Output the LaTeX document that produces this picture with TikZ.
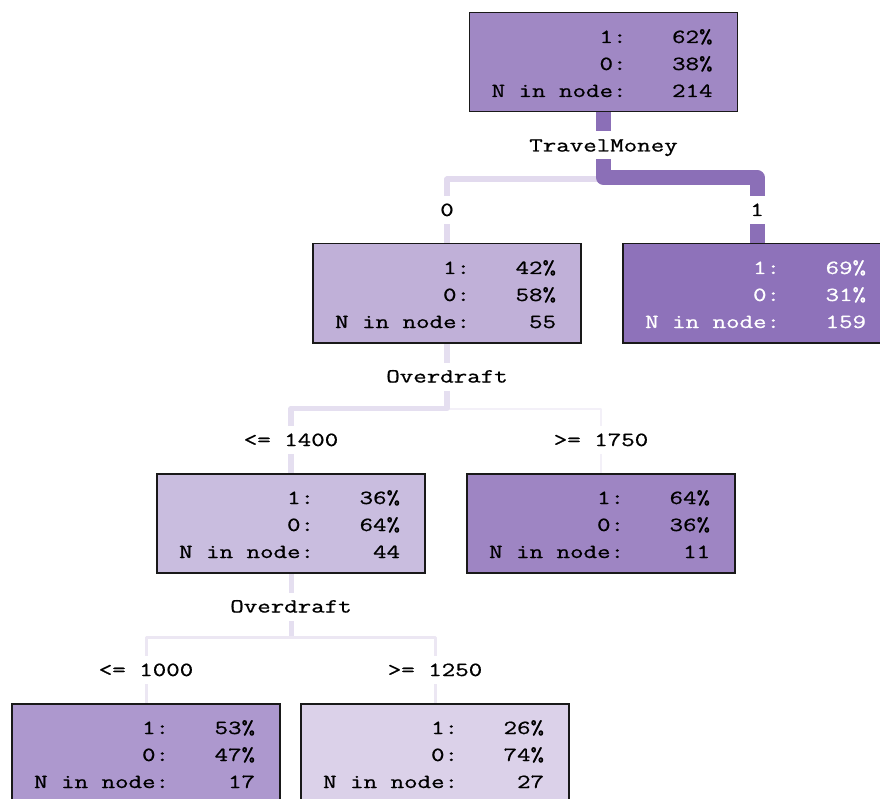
\documentclass[tikz,border=0pt]{standalone}
\usepackage{fontspec}
\newfontfamily\tfont[FakeStretch=1.31,FakeBold=0.8]{Latin Modern Mono}
\usetikzlibrary{calc,backgrounds}
\definecolor{cRoot}{HTML}{A088C4}
\definecolor{cN159}{HTML}{8E72BA}
\definecolor{cN55}{HTML}{C0B0D8}
\definecolor{cN44}{HTML}{C9BDDF}
\definecolor{cN11}{HTML}{9E85C3}
\definecolor{cN17}{HTML}{AD98CE}
\definecolor{cN27}{HTML}{DBD1E9}
\definecolor{cThick}{HTML}{8B6FB7}
\definecolor{cLightA}{HTML}{E2DAEE}
\definecolor{cLightB}{HTML}{E5DFF0}
\definecolor{cLightC}{HTML}{ECE7F3}
\definecolor{cFaint}{HTML}{F3F0F8}
\tikzset{
  tbox/.style={draw=black!90, line width=1.5pt, minimum width=268pt, minimum height=99pt, inner sep=0pt, anchor=north},
  tcell/.style={anchor=base east, inner sep=0pt, font=\tfont\fontsize{20}{22}\selectfont},
  tlabel/.style={anchor=base, fill=white, inner xsep=1pt, inner ysep=8pt, text height=12pt, text depth=0pt, font=\tfont\fontsize{20}{22}\selectfont},
  conn/.style={line join=round, line cap=butt}
}
\newcommand\treebox[8]{%
  \node[tbox, fill=#4] (#1) at (#2,#3) {};
  \node[tcell, text=#5] (#1-la) at ($(#1.north west)+(158,31)$) {1:};
  \node[tcell, text=#5] (#1-va) at ($(#1.north west)+(244,31)$) {#6};
  \node[tcell, text=#5] (#1-lb) at ($(#1.north west)+(158,58)$) {0:};
  \node[tcell, text=#5] (#1-vb) at ($(#1.north west)+(244,58)$) {#7};
  \node[tcell, text=#5] (#1-lc) at ($(#1.north west)+(158,85)$) {N in node:};
  \node[tcell, text=#5] (#1-vc) at ($(#1.north west)+(244,85)$) {#8};
}
\begin{document}
\begin{tikzpicture}[x=1pt,y=-1pt]
\useasboundingbox (0,0) rectangle (880,799);
\clip (0,0) rectangle (880,799);
\treebox{root}{603.5}{12}{cRoot}{black}{62\%}{38\%}{214}
\treebox{n55}{447}{243}{cN55}{black}{42\%}{58\%}{55}
\treebox{n159}{757}{243}{cN159}{white}{69\%}{31\%}{159}
\treebox{n44}{291}{473}{cN44}{black}{36\%}{64\%}{44}
\treebox{n11}{601}{473}{cN11}{black}{64\%}{36\%}{11}
\treebox{n17}{146}{703}{cN17}{black}{53\%}{47\%}{17}
\treebox{n27}{435}{703}{cN27}{black}{26\%}{74\%}{27}
\begin{scope}[on background layer]
\draw[conn, line width=6pt, draw=cLightA] (root.south) -- ++(0,67) -| (n55.north);
\draw[conn, line width=15pt, draw=cThick] (root.south) -- ++(0,65) -| (n159.north);
\draw[conn, line width=2pt, draw=cFaint] (n55.south) -- ++(0,65) -| (n11.north);
\draw[conn, line width=5.5pt, draw=cLightB] (n55.south) -- ++(0,65) -| (n44.north);
\draw[conn, line width=3pt, draw=cLightC] (n44.south) -- ++(0,64) -| (n17.north);
\draw[conn, line width=3pt, draw=cLightC] (n44.south) -- ++(0,64) -| (n27.north);
\draw[conn, line width=5pt, draw=cLightB] (n44.south) -- ++(0,62);
\end{scope}
\node[tlabel] (lTravel) at ($(root.south)+(0,39)$) {TravelMoney};
\node[tlabel] (lOver1) at ($(n55.south)+(0,39)$) {Overdraft};
\node[tlabel] (lOver2) at ($(n44.south)+(0,39)$) {Overdraft};
\node[tlabel] (l0) at ($(n55.north)+(0,-27)$) {0};
\node[tlabel] (l1) at ($(n159.north)+(0,-27)$) {1};
\node[tlabel] (l1400) at ($(n44.north)+(0,-27)$) {<= 1400};
\node[tlabel] (l1750) at ($(n11.north)+(0,-27)$) {>= 1750};
\node[tlabel] (l1000) at ($(n17.north)+(0,-27)$) {<= 1000};
\node[tlabel] (l1250) at ($(n27.north)+(0,-27)$) {>= 1250};
\end{tikzpicture}
\end{document}
